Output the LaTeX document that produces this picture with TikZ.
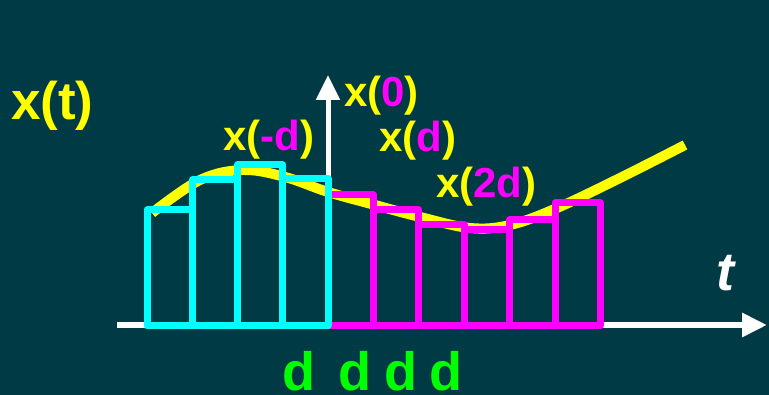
\documentclass[tikz,border=0pt]{standalone}
\usepackage{fontspec}
\setmainfont{Liberation Sans}
\usetikzlibrary{arrows.meta}
\definecolor{bg}{HTML}{003B45}
\definecolor{ylw}{HTML}{FFFF00}
\definecolor{mag}{HTML}{FF00FF}
\definecolor{cyn}{HTML}{00FFFF}
\definecolor{grn}{HTML}{00FF00}
\begin{document}
\begin{tikzpicture}[x=1pt,y=-1pt,
  axisline/.style={white, line width=6pt, -{Triangle[length=25pt,width=23pt]}},
  curveline/.style={ylw, line width=10pt},
  cbar/.style={cyn, line width=7pt, line join=round},
  mbar/.style={mag, line width=7pt, line join=round},
  biglbl/.style={anchor=base west, inner sep=0pt, font=\fontsize{53}{53}\selectfont\bfseries, text=ylw},
  lbl/.style={anchor=base west, inner sep=0pt, font=\fontsize{42}{42}\selectfont\bfseries, text=ylw},
  dlbl/.style={anchor=base, inner sep=0pt, font=\fontsize{54}{54}\selectfont\bfseries, text=grn},
  tlbl/.style={anchor=base west, inner sep=0pt, font=\fontsize{54}{54}\selectfont\bfseries\itshape, text=white}]
\fill[bg] (0,0) rectangle (769,395);
\useasboundingbox (0,0) rectangle (769,395);
% axes
\coordinate (h0) at (117,325);
\coordinate (h1) at (767,325);
\coordinate (v0) at (328,326);
\coordinate (v1) at (328,75);
\draw[axisline] (h0) -- (h1);
\draw[axisline, line width=5pt] (v0) -- (v1);
% curve
\draw[curveline] plot[smooth, tension=0.6] coordinates {(152,213) (200,180) (243,170) (285,177) (328,192) (375,205) (420,217) (470,228) (510,225) (557,208) (620,178) (685,145)};
% magenta bars
\foreach \i/\t in {0/195,1/210,2/225,3/230,4/220,5/203}
  \draw[mbar] ({328+45.4*\i},326) rectangle ({328+45.4*(\i+1)},\t);
% cyan bars
\foreach \i/\t in {0/210,1/180,2/165,3/179}
  \draw[cbar] ({147+45.25*\i},326) rectangle ({147+45.25*(\i+1)},\t);
% labels
\node[biglbl] (xt) at (11,120) {x(t)};
\node[lbl] (xmd) at (223,151) {x(\textcolor{mag}{-d})};
\node[lbl] (x0) at (344,107) {x(\textcolor{mag}{0})};
\node[lbl] (xd) at (379,152) {x(\textcolor{mag}{d})};
\node[lbl] (x2d) at (436,198) {x(\textcolor{mag}{2d})};
\node[tlbl] (t) at (716,291) {t};
\node[dlbl] (d1) at (299,391) {d};
\node[dlbl] (d2) at (355,391) {d};
\node[dlbl] (d3) at (400.5,391) {d};
\node[dlbl] (d4) at (446,391) {d};
\end{tikzpicture}
\end{document}
